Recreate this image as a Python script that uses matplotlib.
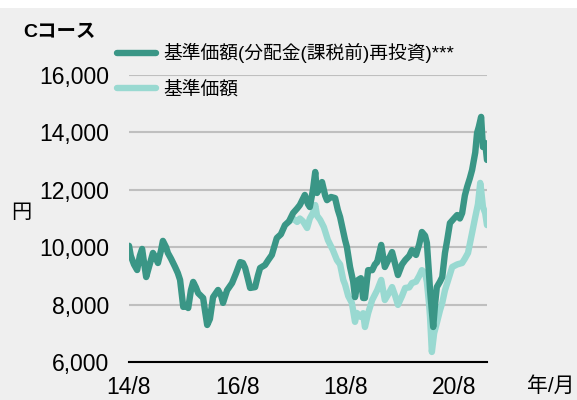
import matplotlib
matplotlib.use("Agg")
import matplotlib.pyplot as plt
from matplotlib.patches import Rectangle

plt.rcParams['font.family'] = ['Liberation Sans', 'Noto Sans CJK JP', 'DejaVu Sans']

# months since 2014/8 and values (yen)
dark_months = [0, 0.4, 1.1, 1.8, 2.4, 2.9, 3.3, 3.8, 4.4, 5.3, 6.0, 6.4, 7.1, 7.5,
               8.2, 8.6, 9.3, 10.2, 10.8, 11.3, 12.0, 12.6, 13.1, 13.7, 14.2, 14.8,
               15.3, 16.4, 16.8, 17.3, 17.9, 18.6, 19.7, 20.4, 20.8, 21.7, 22.8, 23.7,
               24.6, 25.2, 25.7, 26.3, 26.8, 27.9, 28.5, 29.0, 30.1, 30.8, 31.6, 32.7,
               33.6, 34.5, 35.4, 36.3, 37.2, 37.8, 38.9, 39.6, 40.0, 40.7, 41.2, 41.6,
               42.3, 42.7, 43.4, 43.8, 44.7, 45.6, 46.2, 46.7, 47.8, 48.2, 48.9, 49.6,
               50.0, 50.7, 51.3, 51.8, 52.2, 52.9, 53.8, 54.4, 54.9, 55.8, 56.6, 57.5,
               58.2, 58.9, 59.5, 60.4, 61.1, 62.0, 62.6, 63.5, 64.2, 64.8, 65.5, 65.9,
               66.4, 66.6, 67.3, 67.7, 68.1, 68.8, 69.3, 69.9, 70.4, 71.0, 71.9, 72.6,
               73.2, 73.7, 74.3, 74.8, 75.4, 75.9, 76.6, 77.0, 77.4, 77.9, 78.1, 78.3,
               78.8, 79.2]
dark_values = [10050, 9700, 9400, 9205, 9700, 9940, 9500, 8960, 9300, 9800, 9600, 9450,
               9900, 10220, 10000, 9800, 9600, 9310, 9100, 8860, 7920, 7950, 7880, 8500,
               8790, 8600, 8400, 8230, 7800, 7290, 7500, 8260, 8510, 8300, 8060, 8500,
               8750, 9100, 9480, 9450, 9275, 8900, 8580, 8610, 9000, 9275, 9380, 9550,
               9730, 10320, 10450, 10770, 10900, 11190, 11350, 11470, 11820, 11500,
               11400, 12000, 12620, 11890, 12100, 12270, 11800, 11640, 11750, 11710,
               11300, 11050, 10250, 10010, 9310, 8800, 8260, 8860, 8920, 8230, 8230,
               9200, 9200, 9400, 9480, 10080, 9310, 9600, 9830, 9400, 9030, 9400, 9550,
               9700, 9900, 9730, 10100, 10530, 10400, 10150, 9000, 8510, 7220, 8000,
               8610, 8800, 8960, 9800, 10250, 10840, 11000, 11120, 11000, 11190, 11800,
               12100, 12400, 12690, 13300, 13980, 14200, 14540, 14000, 13490, 13630,
               13040]

light_months = [35.4, 36.3, 37.2, 37.8, 38.5, 39.4, 40.0, 40.7, 41.2, 41.6, 42.3, 43.1,
                44.0, 45.1, 46.0, 46.7, 47.4, 47.8, 48.5, 49.3, 50.0, 50.4, 51.3, 51.8,
                52.2, 52.9, 53.8, 54.9, 55.8, 56.6, 57.5, 58.2, 58.9, 59.5, 60.4, 61.1,
                62.0, 62.6, 63.5, 64.2, 64.8, 65.5, 65.9, 66.4, 66.6, 67.0, 67.5, 68.1,
                68.8, 69.3, 69.9, 70.4, 71.5, 72.6, 73.7, 74.3, 75.0, 75.9, 76.6, 77.2,
                77.7, 77.9, 78.3, 78.8, 79.2]
light_values = [10900, 11000, 10880, 11000, 10900, 10670, 11000, 11200, 11470, 11100,
                10950, 10700, 10250, 9900, 9550, 9400, 8860, 8700, 8300, 8060, 7400,
                7710, 7570, 7700, 7220, 7700, 8160, 8500, 8860, 8160, 8400, 8610, 8300,
                7990, 8300, 8580, 8600, 8750, 8800, 9000, 9200, 9100, 8790, 8000, 7570,
                6350, 7000, 7360, 7800, 8060, 8500, 8750, 9310, 9400, 9450, 9600, 9800,
                10500, 11050, 11500, 12240, 12000, 11400, 11190, 10770]

yticks = [6000, 8000, 10000, 12000, 14000, 16000]
xticks = [0, 24, 48, 72]
xticklabels = ['14/8', '16/8', '18/8', '20/8']

dark_color = '#3a9686'
light_color = '#99d9d1'
bg = '#efefef'

fig = plt.figure(figsize=(5.77, 4.0), dpi=100, facecolor='white')
fig.patches.append(Rectangle((0, 0), 1, 1 - 8 / 400, transform=fig.transFigure,
                             facecolor=bg, edgecolor='none', zorder=-10))

ax = fig.add_axes([129 / 577, 1 - 362 / 400, (487 - 129) / 577, (362 - 75) / 400])
ax.set_facecolor(bg)
ax.patch.set_alpha(0)

ax.plot(light_months, light_values, color=light_color, lw=4.6, label='基準価額',
        solid_capstyle='round', solid_joinstyle='round', zorder=3)
ax.plot(dark_months, dark_values, color=dark_color, lw=4.6,
        label='基準価額(分配金(課税前)再投資)***',
        solid_capstyle='round', solid_joinstyle='round', zorder=4)

ax.set_xlim(0, 79.2)
ax.set_ylim(6000, 16000)
ax.set_yticks(yticks)
ax.set_yticklabels([f'{v:,}' for v in yticks])
ax.set_xticks(xticks)
ax.set_xticklabels(xticklabels)
ax.tick_params(axis='both', length=0, labelsize=16.5)
ax.tick_params(axis='y', pad=14)
ax.tick_params(axis='x', pad=10)
ax.grid(axis='y', color='#bfbfbf', lw=1.5)
ax.set_axisbelow(True)
for s in ['top', 'right', 'left']:
    ax.spines[s].set_visible(False)
ax.spines['bottom'].set_color('black')
ax.spines['bottom'].set_linewidth(1.5)
ax.spines['bottom'].set_zorder(5)

handles, labels = ax.get_legend_handles_labels()
leg = fig.legend(handles[::-1], labels[::-1], loc='upper left',
                 bbox_to_anchor=(117 / 577, 1 - 43 / 400), frameon=False,
                 fontsize=13.5, handlelength=2.1, handletextpad=0.35,
                 labelspacing=0.95, borderpad=0, borderaxespad=0)

fig.text(23 / 577, 1 - 33 / 400, 'Cコース', fontsize=14, fontweight='bold',
         va='center', ha='left')
fig.text(21 / 577, 1 - 213 / 400, '円', fontsize=14.5, va='center', ha='center')
fig.text(551 / 577, 1 - 386 / 400, '年/月', fontsize=15, va='center', ha='center')

fig.savefig('out.png', dpi=100, facecolor=fig.get_facecolor())
